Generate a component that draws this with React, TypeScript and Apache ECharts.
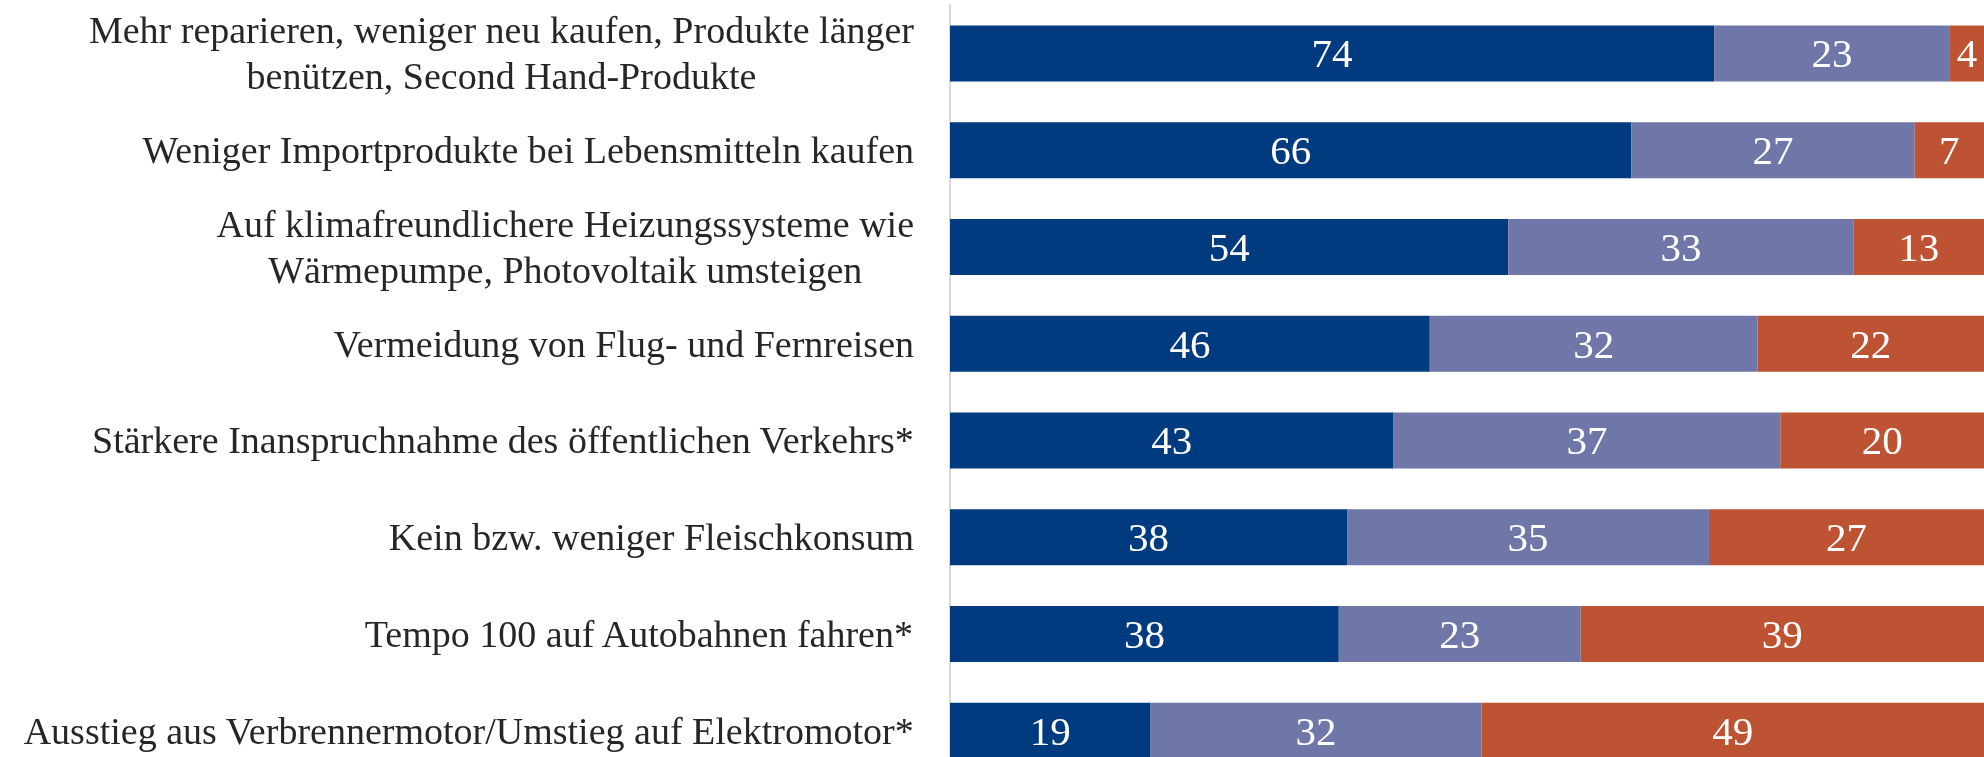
import React, { useEffect, useRef } from "react";
import * as echarts from "echarts";

const categories = [
  "Mehr reparieren, weniger neu kaufen, Produkte länger\nbenützen, Second Hand-Produkte",
  "Weniger Importprodukte bei Lebensmitteln kaufen",
  "Auf klimafreundlichere Heizungssysteme wie\nWärmepumpe, Photovoltaik umsteigen",
  "Vermeidung von Flug- und Fernreisen",
  "Stärkere Inanspruchnahme des öffentlichen Verkehrs*",
  "Kein bzw. weniger Fleischkonsum",
  "Tempo 100 auf Autobahnen fahren*",
  "Ausstieg aus Verbrennermotor/Umstieg auf Elektromotor*",
];
const seriesA = [73.9, 65.9, 54.0, 46.4, 42.9, 38.4, 37.6, 19.4];
const seriesB = [22.8, 27.4, 33.4, 31.7, 37.4, 35.0, 23.4, 32.0];
const seriesC = [3.6, 6.7, 12.6, 21.9, 19.7, 26.6, 39.0, 48.6];
const seriesNames = ["A", "B", "C"];
const colors = ["#003A7F", "#6F76A8", "#BE5334"];

const FONT = "'Liberation Serif', 'Times New Roman', serif";

export default function App() {
  const ref = useRef<HTMLDivElement>(null);
  useEffect(() => {
    if (!ref.current) return;
    const chart = echarts.init(ref.current, null, { renderer: "svg" });
    const mk = (name: string, data: number[], color: string) => ({
      name,
      type: "bar",
      stack: "total",
      data,
      barWidth: 56,
      itemStyle: { color },
      label: {
        show: true,
        position: "inside",
        color: "#ffffff",
        fontFamily: FONT,
        fontSize: 41,
        formatter: (p: any) => String(Math.round(p.value)),
      },
    });
    chart.setOption({
      animation: false,
      grid: { left: 950, right: 0, top: 5, bottom: 0, containLabel: false },
      xAxis: { type: "value", min: 0, max: 100, show: false },
      yAxis: {
        type: "category",
        inverse: true,
        data: categories,
        axisLine: { show: true, lineStyle: { color: "#D9D9D9", width: 2 } },
        axisTick: { show: false },
        axisLabel: {
          margin: 36,
          align: "right",
          color: "#262626",
          fontFamily: FONT,
          fontSize: 38,
          lineHeight: 46,
          formatter: (v: string) =>
            v
              .split("\n")
              .map((l) => `{c|${l}}`)
              .join("\n"),
          rich: {
            c: {
              align: "center",
              color: "#262626",
              fontFamily: FONT,
              fontSize: 38,
              lineHeight: 46,
            },
          },
        },
      },
      series: [
        mk(seriesNames[0], seriesA, colors[0]),
        mk(seriesNames[1], seriesB, colors[1]),
        mk(seriesNames[2], seriesC, colors[2]),
      ],
    });
    return () => chart.dispose();
  }, []);
  return (
    <div
      ref={ref}
      style={{ position: "fixed", left: 0, top: 0, width: 1984, height: 779 }}
    />
  );
}
